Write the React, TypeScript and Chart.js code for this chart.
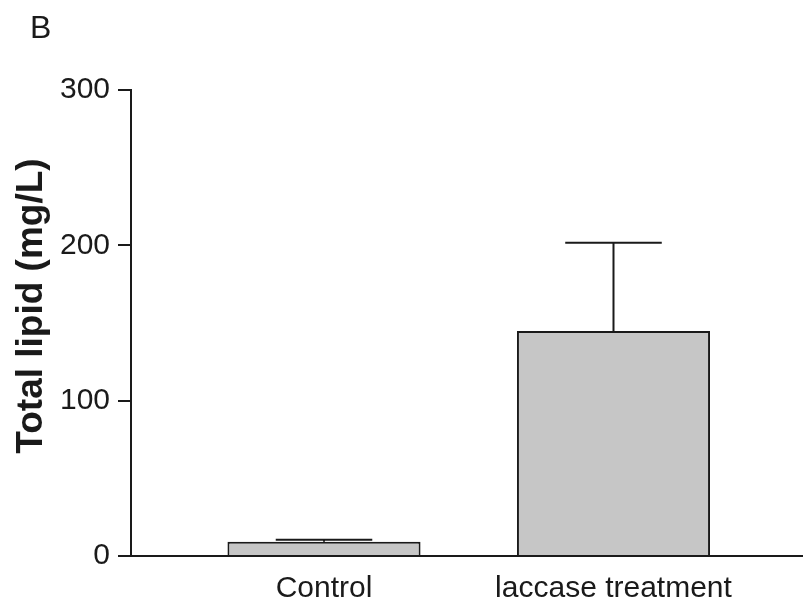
import { useEffect, useRef } from "react";
import { Chart, registerables } from "chart.js";

Chart.register(...registerables);

const categories = ["Control", "laccase treatment"];
const means = [9.2, 144.8];
const upperErrors = [1.2, 56.9];
const yTicks = [0, 100, 200, 300];
const panelLabel = "B";
const yTitle = "Total lipid (mg/L)";

const FAMILY = '"Liberation Sans", Arial, Helvetica, sans-serif';
const INK = "#1a1a1a";
const BAR_FILL = "#c6c6c6";

const errorBarPlugin = {
  id: "errorBars",
  afterDatasetsDraw(chart: any) {
    const { ctx } = chart;
    const yScale = chart.scales.y;
    const meta = chart.getDatasetMeta(0);
    ctx.save();
    ctx.strokeStyle = INK;
    ctx.lineWidth = 2;
    meta.data.forEach((el: any, i: number) => {
      const top = yScale.getPixelForValue(means[i] + upperErrors[i]);
      const base = el.y;
      const half = el.width / 4;
      ctx.beginPath();
      ctx.moveTo(el.x, base);
      ctx.lineTo(el.x, top);
      ctx.moveTo(el.x - half, top);
      ctx.lineTo(el.x + half, top);
      ctx.stroke();
    });
    ctx.restore();
  },
};

const textPlugin = {
  id: "textLabels",
  afterDraw(chart: any) {
    const { ctx, chartArea } = chart;
    ctx.save();
    ctx.fillStyle = INK;
    ctx.textBaseline = "alphabetic";
    ctx.textAlign = "left";
    ctx.font = `32px ${FAMILY}`;
    ctx.fillText(panelLabel, 30, 38);
    ctx.font = `bold 37px ${FAMILY}`;
    ctx.translate(42, (chartArea.top + chartArea.bottom) / 2 - 17);
    ctx.rotate(-Math.PI / 2);
    ctx.textAlign = "center";
    ctx.fillText(yTitle, 0, 0);
    ctx.restore();
  },
};

export default function App() {
  const ref = useRef<HTMLCanvasElement | null>(null);

  useEffect(() => {
    if (!ref.current) return;
    const chart = new Chart(ref.current, {
      type: "bar",
      data: {
        datasets: [
          {
            data: categories.map((_, i) => ({ x: i + 1, y: means[i] })),
            backgroundColor: BAR_FILL,
            borderColor: INK,
            borderWidth: 2,
            borderSkipped: "start",
            barPercentage: 0.667,
            categoryPercentage: 1,
          },
        ],
      },
      options: {
        animation: false,
        responsive: true,
        maintainAspectRatio: false,
        layout: { padding: { top: 90, left: 0, right: 0, bottom: 0 } },
        plugins: {
          legend: { display: false },
          tooltip: { enabled: false },
          title: { display: false },
        },
        scales: {
          x: {
            type: "linear",
            offset: false,
            min: 0.3333,
            max: 2.6546,
            afterBuildTicks: (s: any) => {
              s.ticks = categories.map((_, i) => ({ value: i + 1 }));
            },
            ticks: {
              callback: (v: any) => categories[Number(v) - 1] ?? "",
              font: { family: FAMILY, size: 30 },
              color: INK,
              padding: 7,
              maxRotation: 0,
              autoSkip: false,
            },
            grid: { display: false },
            border: { display: true, color: INK, width: 2 },
            afterFit: (s: any) => {
              s.height = 46;
            },
          },
          y: {
            min: 0,
            max: 300,
            afterBuildTicks: (s: any) => {
              s.ticks = yTicks.map((v) => ({ value: v }));
            },
            ticks: {
              font: { family: FAMILY, size: 30 },
              color: INK,
              padding: 8,
            },
            grid: {
              display: true,
              drawOnChartArea: false,
              drawTicks: true,
              tickLength: 13,
              color: INK,
              lineWidth: 2,
            },
            border: { display: true, color: INK, width: 2 },
            afterFit: (s: any) => {
              s.width = 131;
            },
          },
        },
      } as any,
      plugins: [errorBarPlugin, textPlugin],
    });
    return () => chart.destroy();
  }, []);

  return (
    <div style={{ position: "absolute", left: 0, top: 0, width: 803, height: 602, background: "#fff" }}>
      <canvas ref={ref} />
    </div>
  );
}
